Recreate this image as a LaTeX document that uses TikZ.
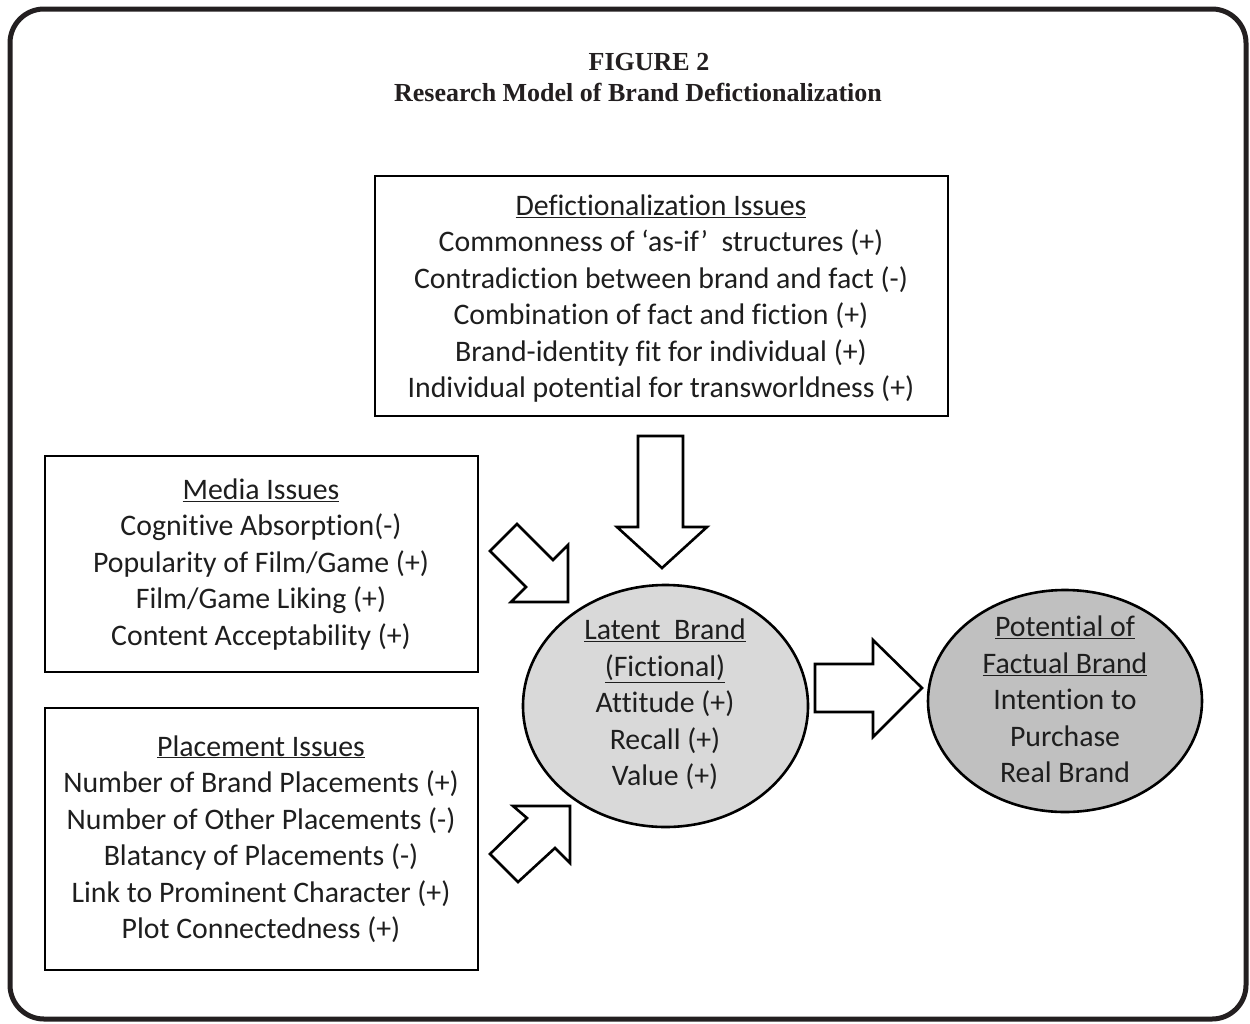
\documentclass[tikz,border=0pt]{standalone}
\usepackage{fontspec}
\setmainfont{Carlito}[Ligatures={NoCommon,NoContextual,NoRequired}]
\newfontfamily\titlefont{Liberation Serif}
\usetikzlibrary{shapes.geometric}
\definecolor{inkgray}{HTML}{1E1E1E}
\definecolor{framegray}{HTML}{231F20}
\definecolor{latentgray}{HTML}{D9D9D9}
\definecolor{factgray}{HTML}{C0C0C0}
\begin{document}
\begin{tikzpicture}[x=1pt,y=-1pt,
  panel/.style={draw=black, line width=2.6pt, fill=white, inner sep=0pt},
  body/.style={align=center, text=inkgray, inner sep=0pt,
    font=\fontsize{29.8}{36.5}\selectfont},
  titletext/.style={text=framegray, inner sep=0pt,
    font=\titlefont\bfseries\fontsize{26}{30}\selectfont},
  blockarrow/.style={draw=black, line width=2.6pt, fill=white, line join=miter},
  oval/.style={ellipse, draw=black, line width=2.6pt, inner sep=0pt}]
\useasboundingbox (0,0) rectangle (1250,1023);

% outer frame
\draw[line width=5pt, draw=framegray, rounded corners=34pt] (10,9) rectangle (1246,1019);

% title
\node (figno) [titletext] at (649,62) {FIGURE 2};
\node (figtitle) [titletext] at (638,92) {Research Model of Brand Defictionalization};

% panels
\node (defic) [panel, minimum width=573pt, minimum height=240pt] at (661.5,296) {};
\node (media) [panel, minimum width=433pt, minimum height=216pt] at (261.5,564) {};
\node (place) [panel, minimum width=433pt, minimum height=262pt] at (261.5,839) {};

% constructs
\node (latent) [oval, fill=latentgray, minimum width=285pt, minimum height=242pt] at (665.5,706) {};
\node (factual) [oval, fill=factgray, minimum width=274pt, minimum height=222pt] at (1065,701) {};

% texts
\node (defictext) [body] at (661,298.5) {\underline{Defictionalization Issues}\\
  Commonness of `as-if'\ \ structures (+)\\
  Contradiction between brand and fact (-)\\
  Combination of fact and fiction (+)\\
  Brand-identity fit for individual (+)\\
  Individual potential for transworldness (+)};
\node (mediatext) [body] at (261,564.5) {\underline{Media Issues}\\
  Cognitive Absorption(-)\\
  Popularity of Film/Game (+)\\
  Film/Game Liking (+)\\
  Content Acceptability (+)};
\node (placetext) [body] at (261,839) {\underline{Placement Issues}\\
  Number of Brand Placements (+)\\
  Number of Other Placements (-)\\
  Blatancy of Placements (-)\\
  Link to Prominent Character (+)\\
  Plot Connectedness (+)};
\node (latenttext) [body] at (665,704.5) {\underline{Latent\ \ Brand}\\
  \underline{(Fictional)}\\
  Attitude (+)\\
  Recall (+)\\
  Value (+)};
\node (factualtext) [body] at (1065,699.5) {\underline{Potential of}\\
  \underline{Factual Brand}\\
  Intention to\\
  Purchase\\
  Real Brand};

% block arrows
\draw[blockarrow] (638,436) -- (683,436) -- (683,527) -- (707,527) -- (662,568)
  -- (617,527) -- (638,527) -- cycle;
\draw[blockarrow] (815,664) -- (873,664) -- (873,640) -- (922,688) -- (873,737)
  -- (873,712) -- (815,712) -- cycle;
\draw[blockarrow] (517,524) -- (553,560) -- (568,545) -- (568,602) -- (511,602)
  -- (526,587) -- (490,551) -- cycle;
\draw[blockarrow] (490,854) -- (527,818) -- (513,806) -- (570,806) -- (570,863)
  -- (555,848) -- (518,882) -- cycle;
\end{tikzpicture}
\end{document}
